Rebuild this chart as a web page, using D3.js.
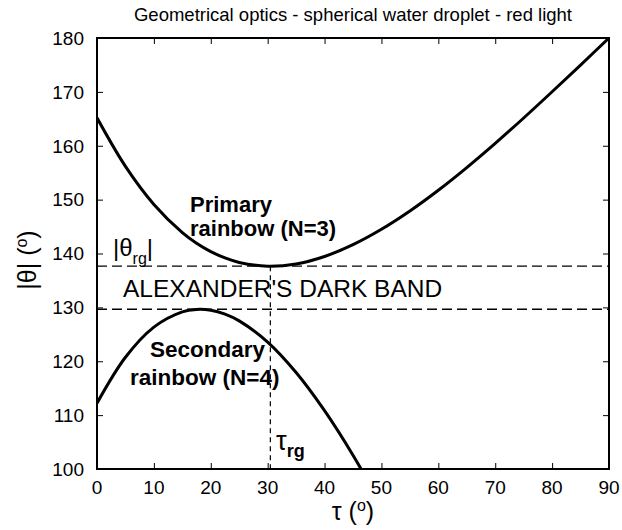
<!DOCTYPE html>
<html>
<head>
<meta charset="utf-8">
<script src="https://cdn.jsdelivr.net/npm/d3@7"></script>
<style>
  html, body { margin: 0; padding: 0; background: #fff; }
  svg { display: block; }
  text { font-family: "Liberation Sans", Arial, Helvetica, sans-serif; fill: #000; }
</style>
</head>
<body>
<svg id="chart" width="622" height="530"></svg>
<script>
// ---- data ----
const tau = [0, 5, 10, 15, 17.5, 20, 22.5, 25, 30, 35, 40, 45, 50, 55, 60, 65, 70, 75, 80, 85, 90];
const primaryTheta = [165.18, 156.17, 149.11, 143.89, 141.92, 140.36, 139.17, 138.34, 137.64, 138.06, 139.45,
                      141.64, 144.49, 147.89, 151.74, 155.95, 160.44, 165.15, 170.02, 174.98, 180.0];
const secondaryTheta = [112.22, 120.74, 126.34, 129.17, 129.62, 129.47, 128.75, 127.49, 123.55, 117.90, 110.82,
                        102.55, 93.26];
const thetaRg = 137.64;      // primary rainbow angle
const thetaSecMax = 129.65;  // secondary rainbow angle
const tauRg = 30.47;
const xTicks = [0, 10, 20, 30, 40, 50, 60, 70, 80, 90];
const yTicks = [100, 110, 120, 130, 140, 150, 160, 170, 180];
const titleText = "Geometrical optics - spherical water droplet - red light";

// ---- layout ----
const svg = d3.select("#chart");
const L = 97, R = 609, T = 38, B = 469;
const x = d3.scaleLinear().domain([0, 90]).range([L, R]);
const y = d3.scaleLinear().domain([100, 180]).range([B, T]);

svg.append("defs").append("clipPath").attr("id", "plotclip")
  .append("rect").attr("x", L).attr("y", T).attr("width", R - L).attr("height", B - T);

// title
svg.append("text").attr("x", (L + R) / 2).attr("y", 21).attr("text-anchor", "middle")
  .style("font-size", "18.5px").text(titleText);

// axes with inward ticks
const tickLen = 6;
const gB = svg.append("g").attr("transform", `translate(0,${B})`)
  .call(d3.axisBottom(x).tickValues(xTicks).tickSize(-tickLen).tickPadding(0).tickFormat(""));
const gT = svg.append("g").attr("transform", `translate(0,${T})`)
  .call(d3.axisTop(x).tickValues(xTicks).tickSize(-tickLen).tickFormat(""));
const gL = svg.append("g").attr("transform", `translate(${L},0)`)
  .call(d3.axisLeft(y).tickValues(yTicks).tickSize(-tickLen).tickFormat(""));
const gR = svg.append("g").attr("transform", `translate(${R},0)`)
  .call(d3.axisRight(y).tickValues(yTicks).tickSize(-tickLen).tickFormat(""));
[gB, gT, gL, gR].forEach(g => {
  g.select(".domain").remove();
  g.selectAll(".tick line").attr("stroke", "#000").attr("stroke-width", 1);
});

// tick labels
svg.append("g").selectAll("text").data(xTicks).join("text")
  .attr("x", d => x(d)).attr("y", 494).attr("text-anchor", "middle")
  .style("font-size", "19px").text(d => d);
svg.append("g").selectAll("text").data(yTicks).join("text")
  .attr("x", 84).attr("y", d => y(d)).attr("dy", "0.36em").attr("text-anchor", "end")
  .style("font-size", "19px").text(d => d);

// frame
svg.append("rect").attr("x", L).attr("y", T).attr("width", R - L).attr("height", B - T)
  .attr("fill", "none").attr("stroke", "#000").attr("stroke-width", 2);

// dashed reference lines
svg.append("line").attr("x1", x(0)).attr("x2", x(90)).attr("y1", y(thetaRg)).attr("y2", y(thetaRg))
  .attr("stroke", "#000").attr("stroke-width", 1.3).attr("stroke-dasharray", "10,5");
svg.append("line").attr("x1", x(0)).attr("x2", x(90)).attr("y1", y(thetaSecMax)).attr("y2", y(thetaSecMax))
  .attr("stroke", "#000").attr("stroke-width", 1.3).attr("stroke-dasharray", "10,5");
svg.append("line").attr("x1", x(tauRg)).attr("x2", x(tauRg)).attr("y1", y(thetaRg)).attr("y2", y(100))
  .attr("stroke", "#000").attr("stroke-width", 1.2).attr("stroke-dasharray", "5,4");

// curves
const line = d3.line().curve(d3.curveCatmullRom.alpha(0.5))
  .x(d => x(d[0])).y(d => y(d[1]));
const primaryPts = tau.map((t, i) => [t, primaryTheta[i]]);
const secondaryPts = secondaryTheta.map((v, i) => [tau[i], v]);
const gc = svg.append("g").attr("clip-path", "url(#plotclip)");
gc.append("path").attr("d", line(primaryPts)).attr("fill", "none")
  .attr("stroke", "#000").attr("stroke-width", 3);
gc.append("path").attr("d", line(secondaryPts)).attr("fill", "none")
  .attr("stroke", "#000").attr("stroke-width", 3);

// annotations
const p1 = svg.append("text").attr("x", 190).attr("y", 212).style("font-size", "22px").style("font-weight", "bold");
p1.append("tspan").attr("x", 190).text("Primary");
p1.append("tspan").attr("x", 190).attr("y", 236).text("rainbow (N=3)");

const s1 = svg.append("text").attr("x", 150).attr("y", 357).style("font-size", "22.5px").style("font-weight", "bold");
s1.append("tspan").attr("x", 150).text("Secondary");
s1.append("tspan").attr("x", 130).attr("y", 385).text("rainbow (N=4)");

svg.append("text").attr("x", 123).attr("y", 297).style("font-size", "24.5px").text("ALEXANDER'S DARK BAND");

const th = svg.append("text").attr("x", 113).attr("y", 256).style("font-size", "24px");
th.append("tspan").text("|θ");
th.append("tspan").attr("dy", 8).style("font-size", "16px").text("rg");
th.append("tspan").attr("dy", -8).text("|");

const tr = svg.append("text").attr("x", 276).attr("y", 450).style("font-size", "27px");
tr.append("tspan").text("τ");
tr.append("tspan").attr("dy", 7).style("font-size", "18px").style("font-weight", "bold").text("rg");

// axis titles
const xt = svg.append("text").attr("x", (L + R) / 2).attr("y", 520).attr("text-anchor", "middle")
  .style("font-size", "25px");
xt.append("tspan").text("τ (");
xt.append("tspan").attr("dy", -9).style("font-size", "16px").text("o");
xt.append("tspan").attr("dy", 9).text(")");

const yt = svg.append("text").attr("transform", `translate(36,260) rotate(-90)`).attr("text-anchor", "middle")
  .style("font-size", "25px");
yt.append("tspan").text("|θ| (");
yt.append("tspan").attr("dy", -9).style("font-size", "16px").text("o");
yt.append("tspan").attr("dy", 9).text(")");
</script>
</body>
</html>
